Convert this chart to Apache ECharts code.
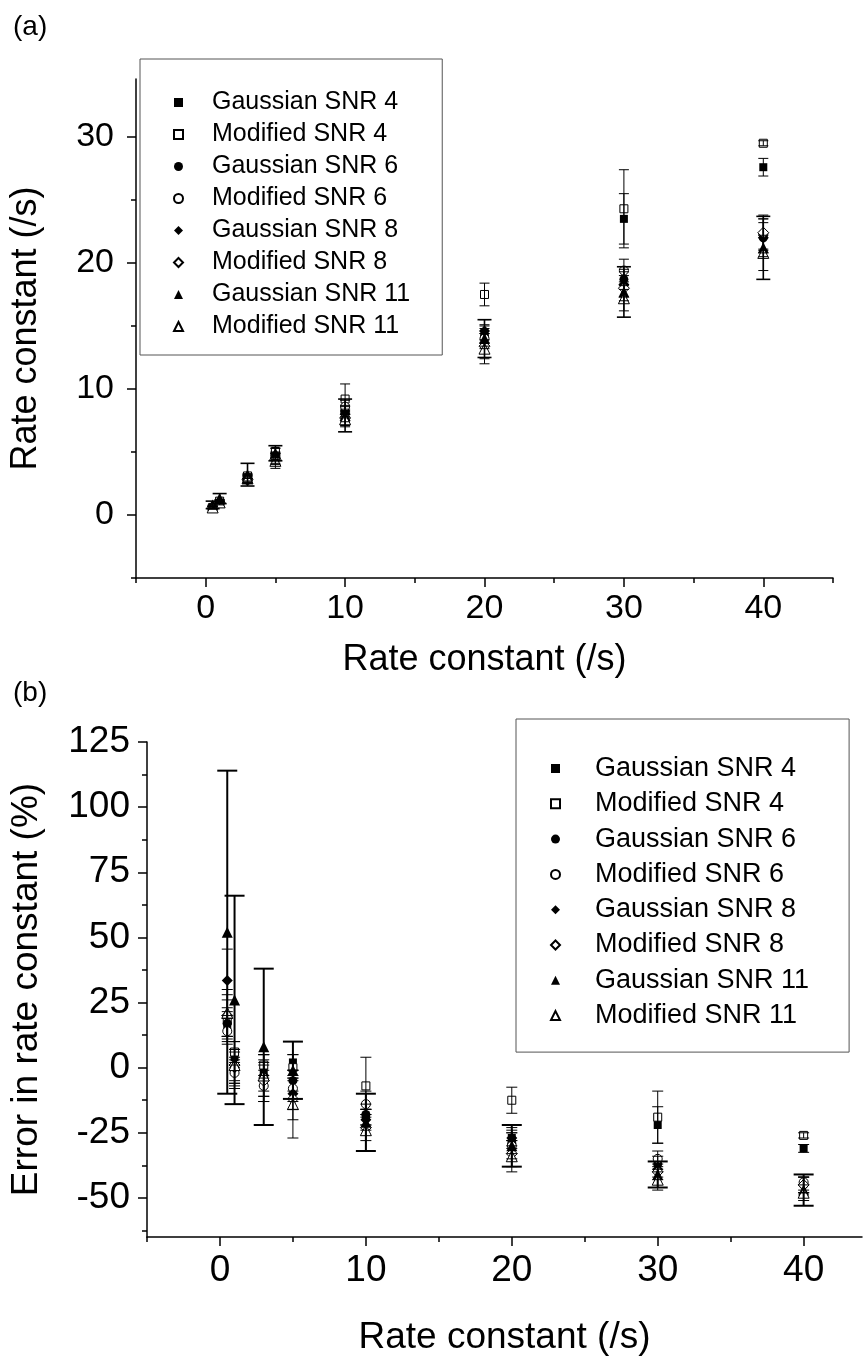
<!DOCTYPE html>
<html>
<head>
<meta charset="utf-8">
<script src="https://cdn.jsdelivr.net/npm/echarts@6/dist/echarts.min.js"></script>
<style>
  html, body { margin: 0; background: #fff; }
  #chart { width: 867px; height: 1357px; }
</style>
</head>
<body>
<div id="chart"></div>
<script>
// true rate constants used in the simulations (/s)
const trueRate = [0.5, 1, 3, 5, 10, 20, 30, 40];

const seriesNames = [
  'Gaussian SNR 4', 'Modified SNR 4', 'Gaussian SNR 6', 'Modified SNR 6',
  'Gaussian SNR 8', 'Modified SNR 8', 'Gaussian SNR 11', 'Modified SNR 11'
];

const xTicks = [0, 10, 20, 30, 40];
const yTicksA = [0, 10, 20, 30];
const yTicksB = [-50, -25, 0, 25, 50, 75, 100, 125];

// (a) recovered rate constant (/s) and its error
const rateG4 = [0.6, 1.1, 3.0, 5.1, 8.1, 14.5, 23.5, 27.6];
const rateM4 = [0.6, 1.1, 3.1, 5.0, 9.2, 17.5, 24.3, 29.5];
const rateG6 = [0.6, 1.0, 2.9, 4.7, 8.2, 14.2, 18.7, 22.0];
const rateM6 = [0.6, 1.0, 2.8, 4.6, 8.6, 14.0, 19.4, 22.3];
const rateG8 = [0.7, 1.0, 2.9, 4.5, 8.0, 14.6, 18.3, 22.0];
const rateM8 = [0.6, 1.0, 2.8, 4.4, 7.7, 13.4, 18.0, 22.4];
const rateG11 = [0.8, 1.3, 3.2, 4.9, 7.9, 14.0, 17.7, 21.2];
const rateM11 = [0.6, 1.0, 2.9, 4.3, 7.6, 13.2, 17.2, 20.8];

const rateErrG4 = [0.1, 0.1, 0.1, 0.2, 0.3, 0.6, 2.0, 0.7];
const rateErrM4 = [0.1, 0.1, 0.2, 0.3, 1.2, 0.9, 3.1, 0.2];
const rateErrG6 = [0.1, 0.1, 0.2, 0.3, 0.5, 0.8, 0.8, 1.2];
const rateErrM6 = [0.1, 0.1, 0.2, 0.3, 0.5, 0.8, 0.9, 1.2];
const rateErrG8 = [0.1, 0.2, 0.3, 0.4, 0.6, 0.9, 1.0, 1.5];
const rateErrM8 = [0.1, 0.1, 0.3, 0.4, 0.6, 1.0, 1.0, 1.4];
const rateErrG11 = [0.3, 0.4, 0.9, 0.6, 1.3, 1.5, 2.0, 2.5];
const rateErrM11 = [0.1, 0.1, 0.3, 0.6, 0.6, 1.2, 1.0, 1.4];

// (b) error in rate constant (%) and its error
const pctG4 = [16, 4, -1, 2, -19, -27, -22, -31];
const pctM4 = [18, 6, 1, 0, -7, -12.5, -19, -26];
const pctG6 = [17, -1, -4, -5, -18, -29, -37, -45];
const pctM6 = [14, -2, -7, -8, -14, -30, -35, -44];
const pctG8 = [33.5, 0, -3, -10, -20, -27, -39, -45];
const pctM8 = [20, 1, -5, -12, -23, -33, -40, -45];
const pctG11 = [52, 26, 8, -1, -21, -30, -41, -47];
const pctM11 = [21, 1, -3, -14, -24, -34, -43, -48];

const pctErrG4 = [4, 3, 3, 3, 3, 3, 7, 1.5];
const pctErrM4 = [8, 4, 4, 5, 11, 5, 10, 1];
const pctErrG6 = [6, 5, 5, 4, 4, 4, 3, 3];
const pctErrM6 = [5, 5, 6, 5, 5, 5, 3, 3];
const pctErrG8 = [12, 6, 8, 6, 4, 4, 3, 3];
const pctErrM8 = [8, 6, 8, 8, 5, 5, 3, 3];
const pctErrG11 = [62, 40, 30, 11, 11, 8, 5, 6];
const pctErrM11 = [9, 9, 8, 13, 8, 6, 4, 3];

const ratesA = [rateG4, rateM4, rateG6, rateM6, rateG8, rateM8, rateG11, rateM11];
const errsA = [rateErrG4, rateErrM4, rateErrG6, rateErrM6, rateErrG8, rateErrM8, rateErrG11, rateErrM11];
const pctsB = [pctG4, pctM4, pctG6, pctM6, pctG8, pctM8, pctG11, pctM11];
const errsB = [pctErrG4, pctErrM4, pctErrG6, pctErrM6, pctErrG8, pctErrM8, pctErrG11, pctErrM11];

const symbols = ['rect', 'rect', 'circle', 'circle', 'diamond', 'diamond', 'triangle', 'triangle'];
const symbolSizes = [8, 8, 9, 9, 11, 11, 11, 11];

const font = 'Liberation Sans, Arial, sans-serif';

// minor ticks halfway between the labelled ones
function minorOf(ticks, min, max) {
  const step = ticks[1] - ticks[0];
  const out = [];
  for (let v = ticks[0] - step / 2; v <= max; v += step) {
    if (v >= min) out.push(v);
  }
  return out;
}

function mainAxis(grid, min, max, ticks, fontSize, margin, name, nameGap, nameSize, extra) {
  return Object.assign({
    type: 'value', gridIndex: grid, min: min, max: max,
    axisLine: { show: true, onZero: false, lineStyle: { color: '#000', width: 1.5 } },
    axisTick: { show: true, inside: false, length: 9, customValues: ticks, lineStyle: { color: '#000', width: 1.5 } },
    axisLabel: { customValues: ticks, fontSize: fontSize, color: '#000', fontFamily: font, margin: margin },
    splitLine: { show: false },
    name: name, nameLocation: 'middle', nameGap: nameGap,
    nameTextStyle: { fontSize: nameSize, color: '#000', fontFamily: font }
  }, extra);
}

function minorAxis(grid, min, max, ticks, extra) {
  return Object.assign({
    type: 'value', gridIndex: grid, min: min, max: max,
    axisLine: { show: false, onZero: false },
    axisTick: { show: true, inside: false, length: 5, customValues: minorOf(ticks, min, max), lineStyle: { color: '#000', width: 1.5 } },
    axisLabel: { show: false },
    splitLine: { show: false }
  }, extra);
}

function errorBars(xi, yi, vals, errs, capW, lw) {
  return {
    type: 'custom', xAxisIndex: xi, yAxisIndex: yi, silent: true, z: 3,
    data: trueRate.map((x, i) => [x, vals[i] - errs[i], vals[i] + errs[i]]),
    encode: { x: 0, y: [1, 2] },
    renderItem: function (params, api) {
      const lo = api.coord([api.value(0), api.value(1)]);
      const hi = api.coord([api.value(0), api.value(2)]);
      const st = { stroke: '#000', lineWidth: lw };
      return {
        type: 'group',
        children: [
          { type: 'line', shape: { x1: lo[0], y1: lo[1], x2: hi[0], y2: hi[1] }, style: st },
          { type: 'line', shape: { x1: lo[0] - capW / 2, y1: lo[1], x2: lo[0] + capW / 2, y2: lo[1] }, style: st },
          { type: 'line', shape: { x1: hi[0] - capW / 2, y1: hi[1], x2: hi[0] + capW / 2, y2: hi[1] }, style: st }
        ]
      };
    }
  };
}

function points(xi, yi, idx, vals) {
  const open = idx % 2 === 1;
  return {
    type: 'scatter', name: seriesNames[idx], xAxisIndex: xi, yAxisIndex: yi, z: 2,
    symbol: symbols[idx], symbolSize: symbolSizes[idx],
    itemStyle: open ? { color: '#fff', borderColor: '#000', borderWidth: 1, opacity: 1 }
                    : { color: '#000', borderColor: '#000', borderWidth: 0, opacity: 1 },
    emphasis: { disabled: true },
    data: trueRate.map((x, i) => [x, vals[i]])
  };
}

const series = [];
seriesNames.forEach((n, i) => {
  const thick = i === 6;
  series.push(points(0, 0, i, ratesA[i]));
  series.push(errorBars(0, 0, ratesA[i], errsA[i], thick ? 14 : 10, thick ? 1.6 : 1));
  series.push(points(2, 2, i, pctsB[i]));
  series.push(errorBars(2, 2, pctsB[i], errsB[i], thick ? 20 : 11, thick ? 2 : 1));
});

function legendAt(left, top, fontSize, gap, padding, textPad) {
  return {
    data: seriesNames, orient: 'vertical', left: left, top: top,
    selectedMode: false, backgroundColor: '#fff',
    borderColor: '#555', borderWidth: 1, borderRadius: 0, padding: padding,
    itemWidth: 9, itemHeight: 9, itemGap: gap,
    textStyle: { fontSize: fontSize, lineHeight: fontSize, color: '#000', fontFamily: font, padding: [0, 0, 0, textPad] }
  };
}

const chart = echarts.init(document.getElementById('chart'), null, { renderer: 'canvas' });
chart.setOption({
  animation: false,
  backgroundColor: '#fff',
  title: [
    { text: '(a)', left: 8, top: 8, textStyle: { fontSize: 28, fontWeight: 'normal', color: '#000', fontFamily: font } },
    { text: '(b)', left: 8, top: 674, textStyle: { fontSize: 28, fontWeight: 'normal', color: '#000', fontFamily: font } }
  ],
  grid: [
    { left: 133, top: 79, width: 700, height: 499 },
    { left: 142, top: 742, width: 720, height: 512 }
  ],
  legend: [
    legendAt(140, 59, 25, 7, [31, 32, 16, 33], 24),
    legendAt(516, 719, 27, 8.3, [36, 40, 23, 34], 30)
  ],
  xAxis: [
    mainAxis(0, -5, 45, xTicks, 34, 14, 'Rate constant (/s)', 64, 36, { position: 'bottom' }),
    minorAxis(0, -5, 45, xTicks, { position: 'bottom' }),
    mainAxis(1, -5, 44, xTicks, 37, 15, 'Rate constant (/s)', 82, 37, { position: 'bottom' }),
    minorAxis(1, -5, 44, xTicks, { position: 'bottom' })
  ],
  yAxis: [
    mainAxis(0, -5, 34.6, yTicksA, 34, 22, 'Rate constant (/s)', 92, 36, { position: 'left' }),
    minorAxis(0, -5, 34.6, yTicksA, { position: 'left' }),
    mainAxis(1, -65, 125, yTicksB, 37, 17, 'Error in rate constant (%)', 102, 37, { position: 'left' }),
    minorAxis(1, -65, 125, yTicksB, { position: 'left' })
  ],
  series: series
});
</script>
</body>
</html>
